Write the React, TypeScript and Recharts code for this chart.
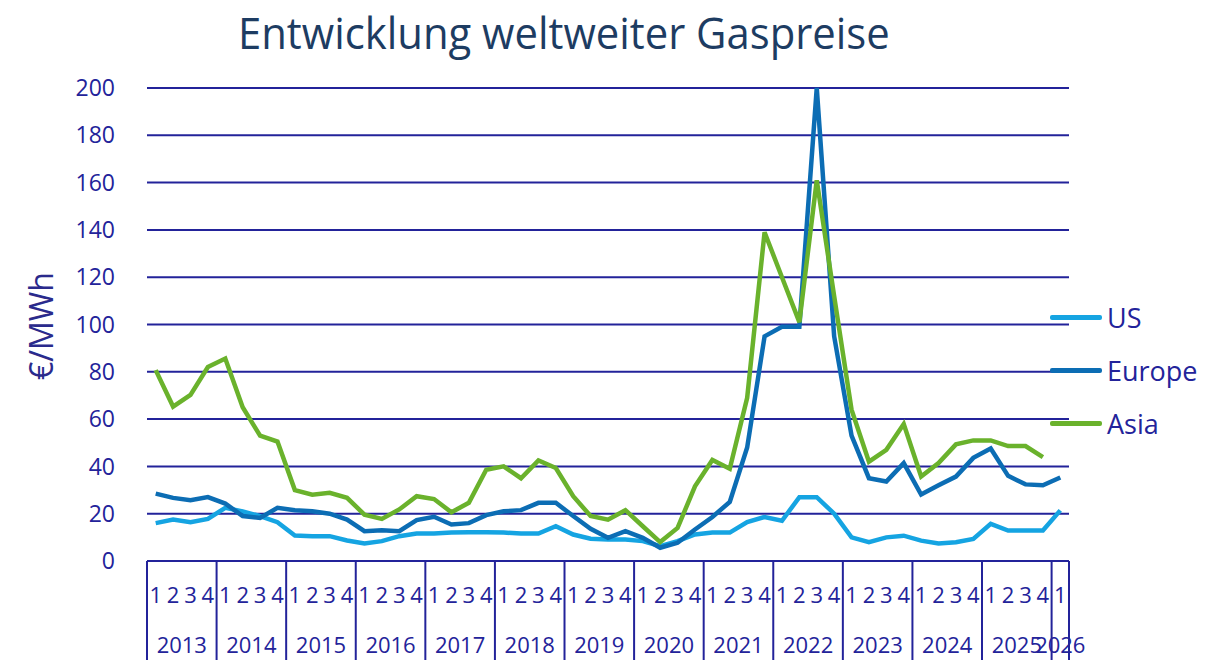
import React from 'react';
import { LineChart, Line, XAxis, YAxis, CartesianGrid } from 'recharts';

const YEARS = ['2013', '2014', '2015', '2016', '2017', '2018', '2019', '2020', '2021', '2022', '2023', '2024', '2025', '2026'];
const QUARTERS = ['1', '2', '3', '4'];

// €/MWh per quarter, 2013 Q1 .. 2026 Q1
const US = [
  16, 17.5, 16.4, 17.8, 22.5, 21, 19, 16.4, 10.8, 10.5, 10.5, 8.7, 7.4, 8.4, 10.5, 11.6,
  11.6, 12, 12.2, 12.2, 12, 11.6, 11.6, 14.7, 11.2, 9.4, 9.1, 9.1, 8.4, 6.3, 8.4, 11.2,
  12, 12, 16.5, 18.6, 17, 27, 27, 20, 10, 8, 10, 10.7, 8.6, 7.4, 7.9, 9.3,
  15.7, 12.9, 12.9, 12.9, 21.4,
];
const EUROPE = [
  28.5, 26.7, 25.7, 27, 24.3, 19, 18.2, 22.5, 21.5, 21, 20, 17.5, 12.6, 13, 12.6, 17.3,
  18.7, 15.4, 16, 19.4, 21, 21.5, 24.6, 24.6, 19, 13.6, 9.8, 12.6, 9.8, 5.6, 7.7, 13.3,
  18.6, 25, 48, 95, 99, 99, 200, 95, 53, 35, 33.6, 41.4, 28.1, 32, 35.7, 43.6,
  47.6, 36, 32.4, 32, 35.3,
];
const ASIA = [
  80.7, 65.3, 70.2, 82, 85.6, 65, 53, 50.5, 30, 28, 28.8, 26.7, 19.6, 17.8, 21.8, 27.4,
  26.2, 20.6, 24.6, 38.6, 40, 35, 42.5, 39.3, 27.4, 19, 17.5, 21.5, 14.7, 8, 14, 31.6,
  42.7, 39, 69, 139, 120, 101, 161, 112, 64, 42, 47, 57.9, 35.7, 41.4, 49.3, 51,
  51, 48.6, 48.6, 43.9, null,
];
const Y_TICKS = [0, 20, 40, 60, 80, 100, 120, 140, 160, 180, 200];

const SERIES = [
  { key: 'us', name: 'US', color: '#15a4e2', values: US },
  { key: 'europe', name: 'Europe', color: '#0c6db4', values: EUROPE },
  { key: 'asia', name: 'Asia', color: '#6ab22c', values: ASIA },
];

const NAVY = '#23239a';
const FONT = '"Open Sans", sans-serif';
const W = 1211;
const H = 660;
const MARGIN = { top: 88, right: 142, bottom: 0, left: 67 };
const Y_AXIS_W = 80;
const X_AXIS_H = 99;
const PLOT_W = W - MARGIN.left - MARGIN.right - Y_AXIS_W;

const categories = YEARS.flatMap((y) => QUARTERS.map((q) => ({ year: y, q }))).slice(0, US.length);

const data = categories.map((c, i) => {
  const row: Record<string, any> = { label: `${c.year}-${c.q}` };
  SERIES.forEach((s) => {
    row[s.key] = s.values[i];
  });
  return row;
});

const quartersPerYear: Record<string, number> = {};
categories.forEach((c) => {
  quartersPerYear[c.year] = (quartersPerYear[c.year] || 0) + 1;
});

function QuarterTick(props: any) {
  const { x, y, payload } = props;
  const [year, q] = String(payload.value).split('-');
  const half = PLOT_W / data.length / 2;
  const qi = QUARTERS.indexOf(q);
  const n = quartersPerYear[year];
  const isLast = payload.value === data[data.length - 1].label;
  return (
    <g>
      {qi === 0 && <line x1={x - half} x2={x - half} y1={y} y2={y + X_AXIS_H} stroke={NAVY} strokeWidth={2} />}
      {isLast && <line x1={x + half} x2={x + half} y1={y} y2={y + X_AXIS_H} stroke={NAVY} strokeWidth={2} />}
      <text x={x} y={y + 42} textAnchor="middle" fill={NAVY} fontSize={22} fontFamily={FONT}>
        {q}
      </text>
      {qi === 0 && (
        <text x={x + (n - 1) * half} y={y + 92} textAnchor="middle" fill={NAVY} fontSize={22} fontFamily={FONT}>
          {year}
        </text>
      )}
    </g>
  );
}

export default function App() {
  return (
    <div style={{ position: 'absolute', left: 0, top: 0, width: W, height: H, background: '#fff', fontFamily: FONT }}>
      <div
        style={{
          position: 'absolute',
          left: 238,
          top: 2,
          fontSize: 44,
          color: '#1d3c62',
          whiteSpace: 'nowrap',
          transform: 'scaleX(0.95)',
          transformOrigin: 'left top',
        }}
      >
        Entwicklung weltweiter Gaspreise
      </div>
      <div
        style={{
          position: 'absolute',
          left: 40,
          top: 326,
          fontSize: 32,
          color: '#2a2a8c',
          whiteSpace: 'nowrap',
          transform: 'translate(-50%, -50%) rotate(-90deg)',
        }}
      >
        €/MWh
      </div>
      <LineChart width={W} height={H} data={data} margin={MARGIN}>
        <CartesianGrid vertical={false} stroke={NAVY} strokeWidth={2} />
        <XAxis
          dataKey="label"
          scale="band"
          interval={0}
          axisLine={false}
          tickLine={false}
          tickSize={0}
          tickMargin={0}
          height={X_AXIS_H}
          tick={<QuarterTick />}
        />
        <YAxis
          domain={[0, 200]}
          ticks={Y_TICKS}
          interval={0}
          axisLine={false}
          tickLine={false}
          tickSize={0}
          tickMargin={32}
          width={Y_AXIS_W}
          tick={{ fill: NAVY, fontSize: 23, fontFamily: FONT }}
        />
        {SERIES.map((s) => (
          <Line
            key={s.key}
            type="linear"
            dataKey={s.key}
            name={s.name}
            stroke={s.color}
            strokeWidth={4.5}
            dot={false}
            isAnimationActive={false}
          />
        ))}
      </LineChart>
      <div style={{ position: 'absolute', left: 1050, top: 291 }}>
        {SERIES.map((s) => (
          <div key={s.key} style={{ display: 'flex', alignItems: 'center', height: 53 }}>
            <div style={{ width: 52, height: 5, background: s.color, borderRadius: 2 }} />
            <span style={{ marginLeft: 5, fontSize: 27, color: NAVY }}>{s.name}</span>
          </div>
        ))}
      </div>
    </div>
  );
}
